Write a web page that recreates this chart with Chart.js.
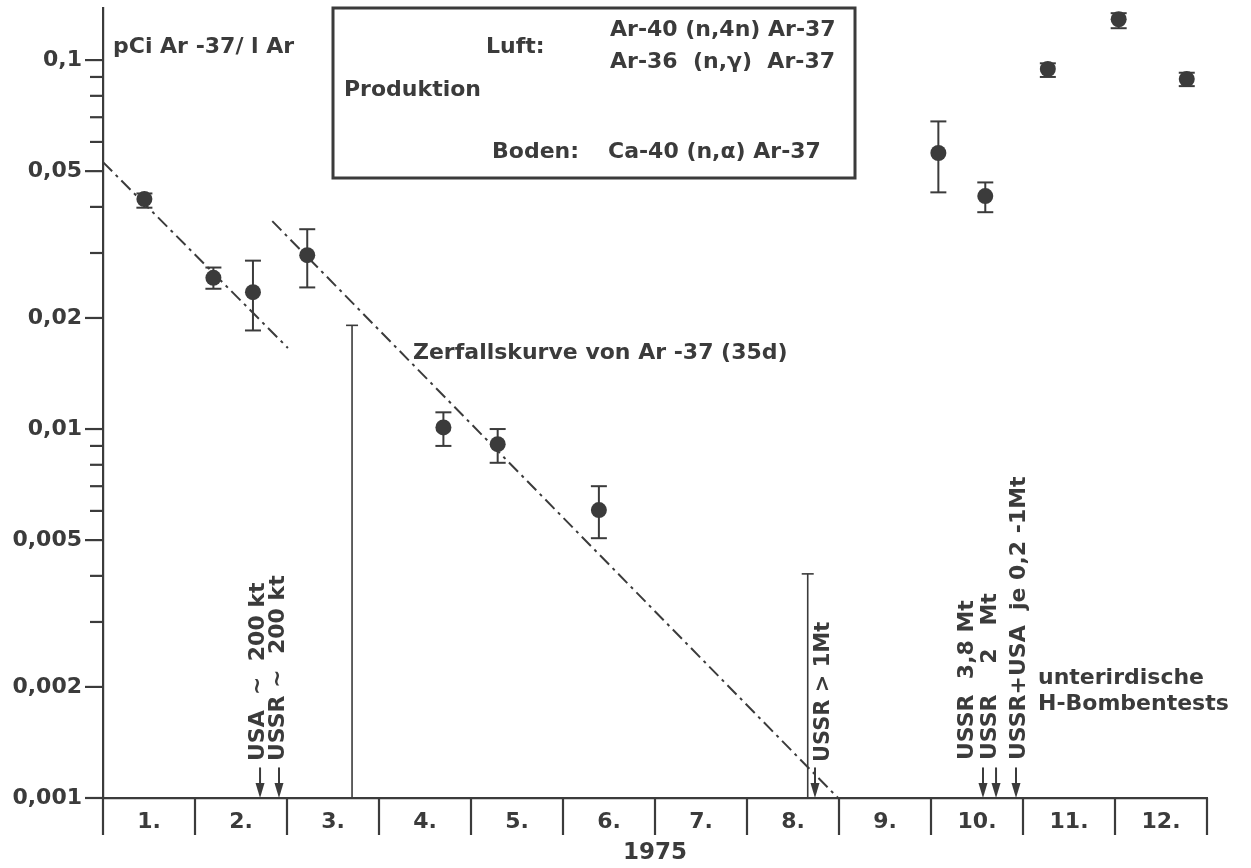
<!DOCTYPE html>
<html>
<head>
<meta charset="utf-8">
<script src="https://cdn.jsdelivr.net/npm/chart.js@4"></script>
<style>
html, body { margin: 0; padding: 0; background: #fff; }
</style>
</head>
<body>
<canvas id="chart" width="1251" height="868"></canvas>
<script>
// Monate 1975
const months = ['1.', '2.', '3.', '4.', '5.', '6.', '7.', '8.', '9.', '10.', '11.', '12.'];

// Messwerte pCi Ar-37 / l Ar (x = Monate seit 1.1.1975)
const sampleX = [0.45, 1.20, 1.63, 2.22, 3.70, 4.29, 5.39, 9.08, 9.59, 10.27, 11.04, 11.78];
const sampleY = [0.042, 0.0257, 0.0235, 0.0296, 0.0101, 0.0091, 0.00603, 0.056, 0.0428, 0.0946, 0.129, 0.0888];
const errHigh = [0.0435, 0.0274, 0.0286, 0.0348, 0.0111, 0.0100, 0.0070, 0.0682, 0.0466, 0.098, 0.134, 0.0924];
const errLow = [0.0398, 0.0240, 0.0185, 0.0242, 0.0090, 0.0081, 0.00506, 0.0438, 0.0387, 0.090, 0.122, 0.0850];

// Zerfallskurven (35d)
const decay1X = [0, 2.01];
const decay1Y = [0.0529, 0.01658];
const decay2X = [1.84, 7.99];
const decay2Y = [0.0366, 0.001];

// senkrechte Marken und Pfeile (Testzeitpunkte)
const markerX = [2.707, 7.66];
const markerTop = [0.0191, 0.00405];
const arrowX = [1.707, 1.913, 7.739, 9.565, 9.707, 9.924];
const arrowTop = 0.00121;

// y-Achse
const yMajor = [0.001, 0.002, 0.005, 0.01, 0.02, 0.05, 0.1];
const yLabels = ['0,001', '0,002', '0,005', '0,01', '0,02', '0,05', '0,1'];
const yMinor = [0.003, 0.004, 0.006, 0.007, 0.008, 0.009, 0.03, 0.04, 0.06, 0.07, 0.08, 0.09];

const ink = '#3b3b3b';
const FONT = '"DejaVu Sans", sans-serif';

function line(ctx, x1, y1, x2, y2) {
    ctx.beginPath();
    ctx.moveTo(x1, y1);
    ctx.lineTo(x2, y2);
    ctx.stroke();
}

function text(ctx, s, x, y, size, rot) {
    ctx.save();
    ctx.translate(x, y);
    if (rot) ctx.rotate(-Math.PI / 2);
    ctx.font = 'bold ' + size + 'px ' + FONT;
    ctx.textAlign = 'left';
    ctx.textBaseline = 'middle';
    ctx.fillText(s, 0, 0);
    ctx.restore();
}

const deko = {
    id: 'deko',
    beforeDatasetsDraw(chart) {
        const ctx = chart.ctx, xs = chart.scales.x, ys = chart.scales.y;
        ctx.save();
        ctx.strokeStyle = ink;
        ctx.lineWidth = 2;
        // Fehlerbalken
        sampleX.forEach(function (v, i) {
            const x = xs.getPixelForValue(v);
            const y1 = ys.getPixelForValue(errHigh[i]);
            const y2 = ys.getPixelForValue(errLow[i]);
            line(ctx, x, y1, x, y2);
            line(ctx, x - 8, y1, x + 8, y1);
            line(ctx, x - 8, y2, x + 8, y2);
        });
        ctx.restore();
    },
    afterDraw(chart) {
        const ctx = chart.ctx, xs = chart.scales.x, ys = chart.scales.y;
        const area = chart.chartArea;
        ctx.save();
        ctx.strokeStyle = ink;
        ctx.fillStyle = ink;
        ctx.lineWidth = 2.2;
        // Teilstriche y
        yMajor.forEach(function (v) {
            const y = ys.getPixelForValue(v);
            line(ctx, area.left - 18, y, area.left, y);
        });
        yMinor.forEach(function (v) {
            const y = ys.getPixelForValue(v);
            line(ctx, area.left - 13, y, area.left, y);
        });
        // Monatsgrenzen
        for (let i = 0; i <= 12; i++) {
            const x = xs.getPixelForValue(i);
            line(ctx, x, area.bottom, x, area.bottom + 37);
        }
        // senkrechte Marken
        ctx.lineWidth = 1.6;
        markerX.forEach(function (v, i) {
            const x = xs.getPixelForValue(v);
            const y = ys.getPixelForValue(markerTop[i]);
            line(ctx, x, area.bottom, x, y);
            line(ctx, x - 6, y, x + 6, y);
        });
        // Pfeile
        ctx.lineWidth = 2;
        arrowX.forEach(function (v) {
            const x = xs.getPixelForValue(v);
            const y = ys.getPixelForValue(arrowTop);
            line(ctx, x, y, x, area.bottom - 10);
            ctx.beginPath();
            ctx.moveTo(x - 4.5, area.bottom - 15);
            ctx.lineTo(x + 4.5, area.bottom - 15);
            ctx.lineTo(x, area.bottom);
            ctx.closePath();
            ctx.fill();
        });
        // Kasten
        ctx.lineWidth = 3;
        ctx.strokeRect(333, 8, 522, 170);

        text(ctx, 'pCi Ar -37/ l Ar', 113, 47, 22);
        text(ctx, 'Luft:', 486, 47, 22);
        text(ctx, 'Ar-40 (n,4n) Ar-37', 610, 30, 22);
        text(ctx, 'Ar-36  (n,\u03B3)  Ar-37', 610, 62, 22);
        text(ctx, 'Produktion', 344, 90, 22);
        text(ctx, 'Boden:', 492, 152, 22);
        text(ctx, 'Ca-40 (n,\u03B1) Ar-37', 608, 152, 22);
        text(ctx, 'Zerfallskurve von Ar -37 (35d)', 413, 353, 22);
        text(ctx, 'unterirdische', 1038, 678, 22);
        text(ctx, 'H-Bombentests', 1038, 704, 22);

        text(ctx, 'USA  ~  200 kt', 258, 761, 22, true);
        text(ctx, 'USSR ~  200 kt', 278, 761, 22, true);
        text(ctx, 'USSR > 1Mt', 824, 762, 21, true);
        text(ctx, 'USSR  3,8 Mt', 967, 760, 22, true);
        text(ctx, 'USSR    2   Mt', 990, 760, 22, true);
        text(ctx, 'USSR+USA  je 0,2 -1Mt', 1019, 760, 22, true);
        ctx.restore();
    }
};

const decayStyle = {
    type: 'line',
    borderColor: ink,
    borderWidth: 2,
    borderDash: [13, 5, 3, 5],
    pointRadius: 0,
    fill: false
};

new Chart(document.getElementById('chart'), {
    type: 'scatter',
    data: {
        datasets: [{
            label: 'Ar-37',
            data: sampleX.map((x, i) => ({x: x, y: sampleY[i]})),
            pointRadius: 8,
            pointBackgroundColor: ink,
            pointBorderWidth: 0
        }, Object.assign({
            label: 'Zerfall 1',
            data: decay1X.map((x, i) => ({x: x, y: decay1Y[i]}))
        }, decayStyle), Object.assign({
            label: 'Zerfall 2',
            data: decay2X.map((x, i) => ({x: x, y: decay2Y[i]}))
        }, decayStyle)]
    },
    options: {
        responsive: false,
        animation: false,
        layout: { padding: { top: 8, right: 44, left: 0, bottom: 0 } },
        plugins: {
            legend: { display: false },
            tooltip: { enabled: false }
        },
        scales: {
            x: {
                type: 'linear',
                min: 0,
                max: 12,
                afterBuildTicks: function (scale) {
                    scale.ticks = months.map((m, i) => ({value: i + 0.5}));
                },
                afterFit: function (scale) {
                    scale.height = 70;
                    scale.paddingLeft = 0;
                    scale.paddingRight = 0;
                },
                grid: { display: false, drawTicks: false },
                border: { display: true, color: ink, width: 2.2 },
                ticks: {
                    autoSkip: false,
                    maxRotation: 0,
                    padding: 11,
                    color: ink,
                    font: { family: FONT, size: 22, weight: 'bold' },
                    callback: function (v) { return months[Math.floor(v)]; }
                },
                title: {
                    display: true,
                    text: '1975',
                    color: ink,
                    padding: { top: 0, bottom: 1 },
                    font: { family: FONT, size: 23, weight: 'bold' }
                }
            },
            y: {
                type: 'logarithmic',
                min: 0.001,
                max: 0.1384,
                afterBuildTicks: function (scale) {
                    scale.ticks = yMajor.map(v => ({value: v}));
                },
                afterFit: function (scale) {
                    scale.width = 103;
                    scale.paddingTop = 0;
                    scale.paddingBottom = 0;
                },
                grid: { display: false, drawTicks: false },
                border: { display: true, color: ink, width: 2.2 },
                ticks: {
                    autoSkip: false,
                    padding: 21,
                    color: ink,
                    font: { family: FONT, size: 22, weight: 'bold' },
                    callback: function (v) {
                        const i = yMajor.findIndex(m => Math.abs(m - v) / m < 1e-6);
                        return i < 0 ? '' : yLabels[i];
                    }
                }
            }
        }
    },
    plugins: [deko]
});
</script>
</body>
</html>
